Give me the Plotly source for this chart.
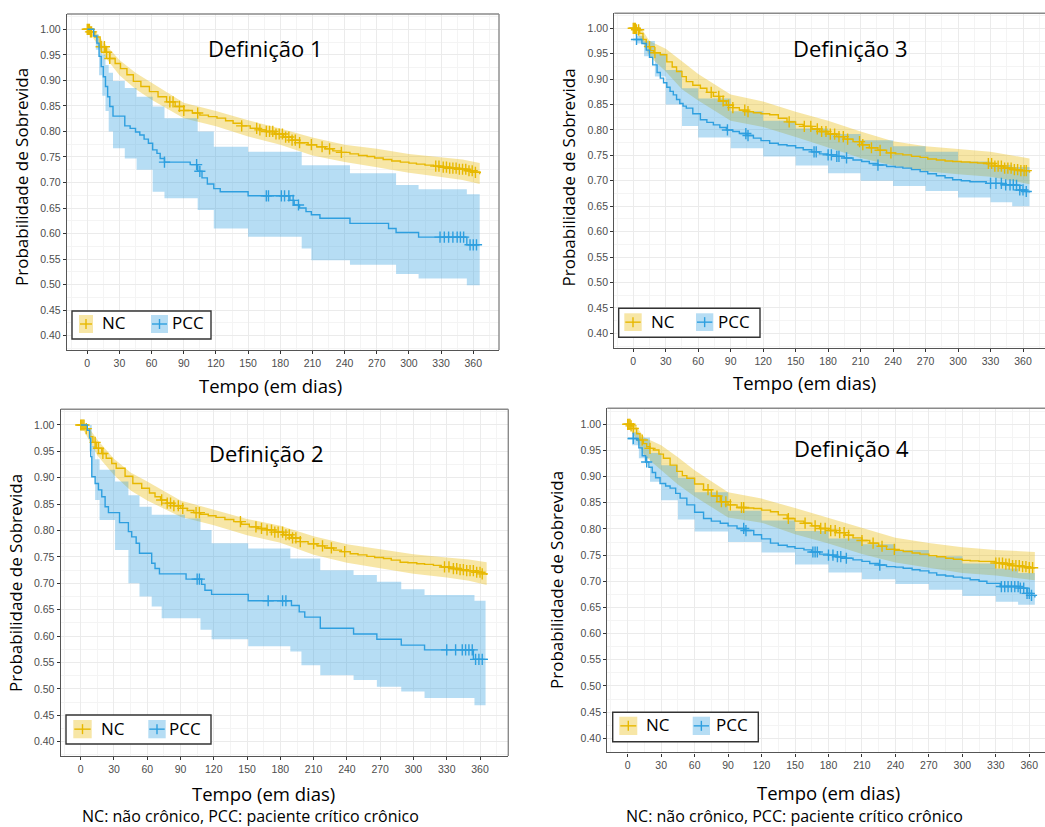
import numpy as np
import plotly.graph_objects as go

W, H = 1045, 827
NC_COLOR = "#E7B800"
PCC_COLOR = "#2E9FDF"
NC_FILL = "rgba(231,184,0,0.35)"
PCC_FILL = "rgba(46,159,223,0.35)"

x_ticks = [0, 30, 60, 90, 120, 150, 180, 210, 240, 270, 300, 330, 360]
y_ticks = [0.40, 0.45, 0.50, 0.55, 0.60, 0.65, 0.70, 0.75, 0.80, 0.85, 0.90, 0.95, 1.00]
y_tick_labels = ["0.40", "0.45", "0.50", "0.55", "0.60", "0.65", "0.70", "0.75", "0.80", "0.85", "0.90", "0.95", "1.00"]
panel_titles = ["Definição 1", "Definição 2", "Definição 3", "Definição 4"]
group_names = ["NC", "PCC"]
x_title = "Tempo (em dias)"
y_title = "Probabilidade de Sobrevida"
caption = "NC: não crônico, PCC: paciente crítico crônico"

# ---------------- Definição 1 ----------------
d1_nc_t = [0, 3, 7, 12, 17, 21, 26, 31, 37, 43, 50, 58, 66, 74, 82, 90, 98, 105, 113, 121, 129, 136, 144, 152, 160, 167, 175, 183, 191, 198, 206, 214, 222, 229, 237, 245, 253, 261, 268, 276, 284, 292, 300, 307, 315, 323, 331, 338, 346, 354, 360, 366]
d1_nc_s = [1.0, 0.995, 0.985, 0.966, 0.955, 0.943, 0.933, 0.923, 0.911, 0.898, 0.888, 0.878, 0.868, 0.858, 0.849, 0.841, 0.836, 0.832, 0.829, 0.826, 0.821, 0.816, 0.811, 0.806, 0.803, 0.800, 0.795, 0.789, 0.783, 0.778, 0.774, 0.770, 0.766, 0.762, 0.759, 0.756, 0.753, 0.751, 0.748, 0.745, 0.742, 0.740, 0.738, 0.736, 0.734, 0.732, 0.730, 0.728, 0.726, 0.723, 0.720, 0.716]
d1_nc_band_t = [0, 8, 15, 30, 45, 60, 90, 120, 150, 180, 210, 240, 270, 300, 330, 350, 366]
d1_nc_hi = [1.0, 0.995, 0.975, 0.940, 0.915, 0.895, 0.856, 0.840, 0.822, 0.806, 0.788, 0.774, 0.766, 0.756, 0.750, 0.745, 0.738]
d1_nc_lo = [1.0, 0.975, 0.950, 0.910, 0.883, 0.862, 0.826, 0.810, 0.790, 0.774, 0.753, 0.740, 0.730, 0.719, 0.711, 0.705, 0.697]
d1_nc_cens = [0, 1, 2, 3, 4, 13, 16, 18, 21, 77, 80, 86, 90, 103, 144, 158, 161, 167, 170, 173, 176, 179, 182, 185, 188, 191, 194, 198, 209, 219, 226, 237, 325, 328, 332, 335, 338, 341, 344, 347, 350, 353, 356, 359, 362]

d1_pcc_t = [0, 3, 6, 9, 11, 13, 15, 17, 19, 21, 24, 35, 40, 45, 49, 53, 57, 61, 65, 68, 72, 96, 103, 107, 112, 118, 124, 150, 189, 193, 198, 204, 209, 217, 245, 281, 288, 309, 354, 366]
d1_pcc_s = [1.0, 1.0, 0.987, 0.973, 0.947, 0.927, 0.907, 0.888, 0.868, 0.849, 0.830, 0.811, 0.806, 0.799, 0.793, 0.785, 0.777, 0.764, 0.757, 0.747, 0.740, 0.735, 0.722, 0.709, 0.697, 0.688, 0.682, 0.674, 0.665, 0.656, 0.650, 0.643, 0.637, 0.630, 0.620, 0.610, 0.602, 0.593, 0.578, 0.578]
d1_pcc_band_t = [0, 8, 11, 14, 17, 20, 24, 35, 46, 61, 72, 103, 118, 150, 200, 209, 245, 288, 309, 354, 366]
d1_pcc_hi = [1.0, 0.99, 0.97, 0.95, 0.93, 0.915, 0.899, 0.885, 0.868, 0.849, 0.826, 0.80, 0.77, 0.76, 0.734, 0.734, 0.718, 0.695, 0.687, 0.677, 0.677]
d1_pcc_lo = [1.0, 0.96, 0.91, 0.87, 0.84, 0.80, 0.767, 0.747, 0.725, 0.682, 0.669, 0.646, 0.61, 0.594, 0.571, 0.548, 0.539, 0.521, 0.512, 0.499, 0.499]
d1_pcc_cens = [72, 102, 105, 167, 169, 181, 184, 188, 192, 197, 329, 333, 337, 341, 345, 348, 351, 357, 360, 363]

# ---------------- Definição 2 ----------------
d2_nc_t = [0, 4, 8, 11, 14, 19, 23, 28, 32, 40, 47, 55, 62, 67, 72, 78, 84, 90, 96, 102, 108, 115, 122, 130, 138, 145, 152, 160, 168, 175, 183, 190, 198, 205, 213, 220, 228, 235, 243, 250, 258, 265, 273, 280, 288, 295, 303, 310, 318, 325, 333, 340, 348, 356, 362, 366]
d2_nc_s = [1.0, 0.993, 0.978, 0.967, 0.956, 0.946, 0.937, 0.927, 0.918, 0.903, 0.889, 0.880, 0.871, 0.864, 0.858, 0.852, 0.847, 0.842, 0.838, 0.834, 0.831, 0.828, 0.825, 0.821, 0.817, 0.812, 0.807, 0.804, 0.801, 0.797, 0.792, 0.786, 0.779, 0.775, 0.771, 0.767, 0.763, 0.760, 0.756, 0.754, 0.751, 0.749, 0.747, 0.744, 0.740, 0.739, 0.737, 0.736, 0.734, 0.731, 0.728, 0.726, 0.724, 0.721, 0.718, 0.716]
d2_nc_band_t = [0, 8, 15, 30, 45, 60, 90, 120, 150, 180, 210, 240, 270, 300, 330, 350, 366]
d2_nc_hi = [1.0, 0.993, 0.972, 0.936, 0.910, 0.893, 0.857, 0.840, 0.822, 0.809, 0.789, 0.774, 0.764, 0.755, 0.749, 0.745, 0.740]
d2_nc_lo = [1.0, 0.968, 0.942, 0.905, 0.876, 0.857, 0.826, 0.810, 0.791, 0.777, 0.754, 0.739, 0.729, 0.718, 0.711, 0.705, 0.697]
d2_nc_cens = [0, 1, 2, 3, 5, 13, 16, 20, 73, 78, 81, 84, 88, 92, 104, 107, 144, 158, 163, 168, 172, 175, 178, 182, 185, 188, 191, 194, 198, 210, 218, 226, 238, 328, 332, 336, 339, 342, 345, 348, 351, 354, 357, 360, 362]

d2_pcc_t = [0, 6, 8, 9, 10, 13, 16, 19, 22, 25, 35, 43, 46, 50, 53, 64, 67, 71, 95, 109, 112, 118, 151, 190, 197, 202, 216, 246, 267, 289, 310, 354, 367]
d2_pcc_s = [1.0, 0.99, 0.975, 0.94, 0.902, 0.889, 0.877, 0.864, 0.845, 0.834, 0.815, 0.798, 0.788, 0.776, 0.757, 0.738, 0.728, 0.718, 0.708, 0.698, 0.687, 0.679, 0.667, 0.658, 0.646, 0.636, 0.615, 0.604, 0.594, 0.583, 0.574, 0.556, 0.556]
d2_pcc_band_t = [0, 8, 10, 13, 17, 31, 43, 53, 64, 73, 94, 108, 118, 151, 189, 199, 216, 246, 267, 289, 310, 355, 365]
d2_pcc_hi = [1.0, 1.0, 0.96, 0.935, 0.915, 0.893, 0.867, 0.845, 0.83, 0.83, 0.823, 0.801, 0.776, 0.766, 0.747, 0.747, 0.725, 0.716, 0.703, 0.689, 0.678, 0.667, 0.667]
d2_pcc_lo = [1.0, 0.95, 0.902, 0.858, 0.82, 0.763, 0.70, 0.675, 0.656, 0.634, 0.634, 0.612, 0.594, 0.581, 0.571, 0.545, 0.526, 0.517, 0.504, 0.495, 0.483, 0.469, 0.469]
d2_pcc_cens = [105, 107, 169, 182, 185, 330, 338, 344, 347, 350, 353, 356, 359, 362]

# ---------------- Definição 3 ----------------
d3_nc_t = [0, 3, 6, 9, 12, 16, 19, 25, 31, 36, 40, 45, 49, 55, 62, 68, 74, 80, 86, 92, 98, 105, 111, 118, 126, 134, 142, 150, 157, 165, 172, 180, 188, 195, 203, 211, 218, 226, 234, 242, 249, 257, 265, 272, 280, 288, 295, 303, 311, 318, 326, 334, 342, 350, 357, 366]
d3_nc_s = [1.0, 0.997, 0.990, 0.978, 0.964, 0.956, 0.952, 0.948, 0.934, 0.924, 0.915, 0.905, 0.895, 0.888, 0.882, 0.874, 0.866, 0.857, 0.849, 0.844, 0.839, 0.836, 0.834, 0.832, 0.830, 0.823, 0.816, 0.811, 0.807, 0.802, 0.797, 0.792, 0.787, 0.782, 0.777, 0.771, 0.765, 0.760, 0.755, 0.753, 0.751, 0.748, 0.746, 0.743, 0.741, 0.739, 0.738, 0.737, 0.736, 0.735, 0.734, 0.729, 0.725, 0.722, 0.720, 0.716]
d3_nc_band_t = [0, 8, 15, 30, 45, 60, 90, 120, 150, 180, 210, 240, 270, 300, 330, 350, 366]
d3_nc_hi = [1.0, 0.998, 0.975, 0.960, 0.935, 0.910, 0.870, 0.856, 0.836, 0.818, 0.797, 0.778, 0.768, 0.762, 0.757, 0.750, 0.744]
d3_nc_lo = [1.0, 0.975, 0.945, 0.915, 0.880, 0.858, 0.818, 0.806, 0.786, 0.766, 0.745, 0.730, 0.719, 0.713, 0.708, 0.700, 0.693]
d3_nc_cens = [0, 1, 2, 3, 5, 15, 20, 72, 79, 83, 88, 92, 103, 106, 144, 158, 164, 170, 174, 178, 182, 186, 190, 194, 198, 209, 212, 220, 228, 238, 328, 331, 334, 337, 340, 343, 346, 349, 352, 355, 358, 361, 363]

d3_pcc_t = [0, 3, 8, 12, 15, 18, 22, 25, 28, 31, 34, 37, 40, 43, 46, 49, 55, 62, 68, 74, 80, 86, 92, 98, 105, 111, 118, 126, 134, 142, 150, 157, 165, 172, 180, 188, 195, 203, 211, 218, 226, 234, 242, 249, 257, 265, 272, 280, 288, 295, 303, 311, 326, 341, 354, 357, 362, 366]
d3_pcc_s = [0.978, 0.978, 0.970, 0.957, 0.943, 0.928, 0.913, 0.902, 0.893, 0.884, 0.876, 0.869, 0.860, 0.852, 0.847, 0.843, 0.832, 0.820, 0.815, 0.810, 0.805, 0.800, 0.797, 0.793, 0.789, 0.784, 0.779, 0.774, 0.771, 0.769, 0.765, 0.761, 0.757, 0.753, 0.751, 0.748, 0.745, 0.741, 0.738, 0.734, 0.731, 0.728, 0.727, 0.725, 0.722, 0.718, 0.714, 0.710, 0.706, 0.702, 0.700, 0.698, 0.695, 0.692, 0.691, 0.682, 0.679, 0.677]
d3_pcc_band_t = [0, 3, 10, 20, 30, 45, 60, 90, 120, 150, 180, 210, 240, 270, 300, 330, 350, 366]
d3_pcc_hi = [0.978, 0.985, 0.975, 0.950, 0.918, 0.882, 0.862, 0.837, 0.818, 0.803, 0.792, 0.780, 0.768, 0.757, 0.738, 0.731, 0.727, 0.718]
d3_pcc_lo = [0.978, 0.970, 0.945, 0.905, 0.850, 0.808, 0.785, 0.764, 0.748, 0.730, 0.715, 0.700, 0.690, 0.680, 0.667, 0.658, 0.650, 0.638]
d3_pcc_cens = [3, 87, 104, 106, 167, 169, 180, 183, 188, 190, 197, 226, 330, 335, 340, 344, 348, 351, 354, 357, 360, 363]

# ---------------- Definição 4 ----------------
d4_nc_t = [0, 3, 5, 8, 11, 14, 17, 20, 23, 28, 32, 38, 44, 49, 53, 60, 68, 75, 83, 90, 98, 105, 113, 120, 128, 135, 143, 150, 158, 165, 172, 180, 187, 195, 202, 210, 217, 225, 232, 240, 247, 255, 262, 270, 277, 285, 292, 300, 307, 315, 322, 330, 337, 345, 352, 358, 365]
d4_nc_s = [1.0, 0.997, 0.992, 0.982, 0.970, 0.963, 0.957, 0.954, 0.951, 0.943, 0.935, 0.922, 0.910, 0.902, 0.897, 0.886, 0.875, 0.863, 0.852, 0.846, 0.841, 0.840, 0.839, 0.836, 0.833, 0.827, 0.820, 0.815, 0.811, 0.806, 0.801, 0.797, 0.793, 0.788, 0.783, 0.778, 0.773, 0.767, 0.761, 0.759, 0.757, 0.754, 0.752, 0.749, 0.747, 0.744, 0.742, 0.740, 0.739, 0.738, 0.738, 0.735, 0.733, 0.730, 0.728, 0.726, 0.725]
d4_nc_band_t = [0, 8, 15, 30, 45, 60, 90, 120, 150, 180, 210, 240, 270, 300, 330, 350, 365]
d4_nc_hi = [1.0, 0.995, 0.975, 0.960, 0.937, 0.912, 0.870, 0.858, 0.840, 0.821, 0.803, 0.783, 0.773, 0.765, 0.760, 0.758, 0.756]
d4_nc_lo = [1.0, 0.970, 0.940, 0.912, 0.885, 0.862, 0.822, 0.812, 0.790, 0.772, 0.752, 0.736, 0.726, 0.716, 0.711, 0.706, 0.702]
d4_nc_cens = [0, 1, 2, 3, 5, 13, 20, 72, 80, 84, 88, 92, 102, 104, 144, 159, 168, 173, 177, 182, 186, 190, 194, 198, 210, 220, 228, 239, 330, 333, 336, 339, 342, 345, 348, 351, 354, 357, 360, 363]

d4_pcc_t = [0, 4, 8, 10, 13, 16, 19, 22, 25, 29, 34, 38, 43, 47, 53, 60, 68, 75, 83, 90, 98, 105, 113, 120, 128, 135, 143, 150, 158, 165, 172, 180, 187, 195, 202, 210, 217, 225, 232, 240, 247, 255, 262, 270, 277, 285, 292, 300, 307, 315, 322, 334, 352, 358, 362, 365]
d4_pcc_s = [0.973, 0.973, 0.970, 0.955, 0.940, 0.928, 0.918, 0.908, 0.898, 0.887, 0.882, 0.878, 0.868, 0.859, 0.846, 0.832, 0.820, 0.815, 0.811, 0.806, 0.801, 0.797, 0.789, 0.781, 0.773, 0.769, 0.766, 0.763, 0.760, 0.756, 0.752, 0.750, 0.747, 0.744, 0.741, 0.738, 0.734, 0.731, 0.728, 0.727, 0.725, 0.722, 0.720, 0.716, 0.712, 0.710, 0.708, 0.706, 0.703, 0.700, 0.696, 0.690, 0.687, 0.677, 0.673, 0.669]
d4_pcc_band_t = [0, 4, 10, 20, 30, 45, 60, 90, 120, 150, 180, 210, 240, 270, 300, 330, 350, 365]
d4_pcc_hi = [0.973, 0.985, 0.975, 0.945, 0.922, 0.898, 0.870, 0.835, 0.816, 0.796, 0.782, 0.771, 0.760, 0.748, 0.734, 0.724, 0.716, 0.705]
d4_pcc_lo = [0.973, 0.960, 0.935, 0.890, 0.855, 0.818, 0.795, 0.775, 0.755, 0.732, 0.717, 0.704, 0.695, 0.684, 0.672, 0.661, 0.655, 0.638]
d4_pcc_cens = [5, 17, 104, 106, 166, 168, 170, 180, 184, 188, 191, 196, 226, 335, 338, 341, 344, 347, 350, 352, 355, 358, 360, 362]

curves = [
    [(d1_nc_t, d1_nc_s, d1_nc_band_t, d1_nc_lo, d1_nc_hi, d1_nc_cens),
     (d1_pcc_t, d1_pcc_s, d1_pcc_band_t, d1_pcc_lo, d1_pcc_hi, d1_pcc_cens)],
    [(d2_nc_t, d2_nc_s, d2_nc_band_t, d2_nc_lo, d2_nc_hi, d2_nc_cens),
     (d2_pcc_t, d2_pcc_s, d2_pcc_band_t, d2_pcc_lo, d2_pcc_hi, d2_pcc_cens)],
    [(d3_nc_t, d3_nc_s, d3_nc_band_t, d3_nc_lo, d3_nc_hi, d3_nc_cens),
     (d3_pcc_t, d3_pcc_s, d3_pcc_band_t, d3_pcc_lo, d3_pcc_hi, d3_pcc_cens)],
    [(d4_nc_t, d4_nc_s, d4_nc_band_t, d4_nc_lo, d4_nc_hi, d4_nc_cens),
     (d4_pcc_t, d4_pcc_s, d4_pcc_band_t, d4_pcc_lo, d4_pcc_hi, d4_pcc_cens)],
]

# ---------------- layout geometry (pixels) ----------------
panels = [
    dict(box=(67, 499, 14, 350), xr=[-18.9, 384.0], yr=[0.372, 1.030], right=True,
         title=(265, 48), ytitle=(22, 177), xtitle=(270, 385), caption=None,
         legend=dict(box=(72, 211, 311, 339), nc=(79, 93, 315, 333), nct=100, pcc=(151, 168, 315, 333), pcct=170)),
    dict(box=(60.7, 508.3, 409.3, 756), xr=[-18.03, 385.5], yr=[0.3729, 1.0297], right=True,
         title=(266, 453), ytitle=(15, 583), xtitle=(263, 793), caption=(250, 816),
         legend=dict(box=(66, 211, 715, 744), nc=(73.3, 91.7, 720, 738.3), nct=98.5, pcc=(148.3, 165.7, 720, 738.3), pcct=167)),
    dict(box=(614.3, 1045, 13.3, 347.7), xr=[-17.5, 380.3], yr=[0.3717, 1.0295], right=False,
         title=(850, 48), ytitle=(568, 177.5), xtitle=(804, 382), caption=None,
         legend=dict(box=(618.7, 760, 308.3, 337.3), nc=(624.3, 641.7, 313.3, 331), nct=649, pcc=(696, 713.3, 313.3, 331), pcct=716)),
    dict(box=(607.3, 1045, 408.3, 752.3), xr=[-18.3, 374.1], yr=[0.3732, 1.0306], right=False,
         title=(851, 448), ytitle=(556, 580), xtitle=(828, 792), caption=(794, 815.5),
         legend=dict(box=(612.7, 758.3, 712.3, 741.7), nc=(619.3, 637.3, 716.7, 735), nct=644, pcc=(692.7, 710, 716.7, 735), pcct=714)),
]


def PX(x):
    return x / W


def PY(y):
    return 1 - y / H


def step_at(ts, ss, t):
    i = int(np.searchsorted(np.asarray(ts), t, side="right")) - 1
    return ss[max(i, 0)]


fig = go.Figure()
colors = [NC_COLOR, PCC_COLOR]
fills = [NC_FILL, PCC_FILL]

for p, pan in enumerate(panels):
    sfx = "" if p == 0 else str(p + 1)
    xa, ya = "x" + sfx, "y" + sfx
    for g in range(2):
        t, s, bt, lo, hi, cens = curves[p][g]
        shape = "linear" if g == 0 else "hv"
        fig.add_trace(go.Scatter(x=bt, y=lo, mode="lines", line=dict(width=0, shape=shape),
                                 hoverinfo="skip", showlegend=False, xaxis=xa, yaxis=ya))
        fig.add_trace(go.Scatter(x=bt, y=hi, mode="lines", line=dict(width=0, shape=shape),
                                 fill="tonexty", fillcolor=fills[g], hoverinfo="skip",
                                 showlegend=False, xaxis=xa, yaxis=ya))
    for g in range(2):
        t, s, bt, lo, hi, cens = curves[p][g]
        fig.add_trace(go.Scatter(x=t, y=s, mode="lines", name=group_names[g],
                                 line=dict(color=colors[g], width=1.4, shape="hv"),
                                 showlegend=False, xaxis=xa, yaxis=ya))
        cy = [step_at(t, s, c) for c in cens]
        fig.add_trace(go.Scatter(x=cens, y=cy, mode="markers", name=group_names[g] + " censura",
                                 marker=dict(symbol="cross-thin", size=8,
                                             line=dict(width=1.4, color=colors[g])),
                                 showlegend=False, xaxis=xa, yaxis=ya))

layout = dict(
    width=W, height=H, autosize=False,
    margin=dict(l=0, r=0, t=0, b=0),
    paper_bgcolor="white", plot_bgcolor="white",
    showlegend=False,
)
shapes = []
annotations = []
for p, pan in enumerate(panels):
    sfx = "" if p == 0 else str(p + 1)
    x0, x1, y0, y1 = pan["box"]
    layout["xaxis" + sfx] = dict(
        domain=[PX(x0), PX(x1)], range=pan["xr"], anchor="y" + sfx,
        tickmode="array", tickvals=x_ticks, ticktext=[str(v) for v in x_ticks],
        showgrid=True, gridcolor="#EBEBEB", gridwidth=1,
        minor=dict(tickmode="linear", tick0=0, dtick=15, showgrid=True, gridcolor="#F4F4F4", gridwidth=1),
        zeroline=False, ticks="outside", ticklen=3, tickwidth=1, tickcolor="#333333",
        tickfont=dict(family="Liberation Sans, Arial", size=10.5, color="#4D4D4D"),
        showline=True, linecolor="#555555", linewidth=1.4, mirror=False,
    )
    layout["yaxis" + sfx] = dict(
        domain=[PY(y1), PY(y0)], range=pan["yr"], anchor="x" + sfx,
        tickmode="array", tickvals=y_ticks, ticktext=y_tick_labels,
        showgrid=True, gridcolor="#EBEBEB", gridwidth=1,
        minor=dict(tickmode="linear", tick0=0, dtick=0.025, showgrid=True, gridcolor="#F4F4F4", gridwidth=1),
        zeroline=False, ticks="outside", ticklen=3, tickwidth=1, tickcolor="#333333",
        tickfont=dict(family="Liberation Sans, Arial", size=10.5, color="#4D4D4D"),
        showline=True, linecolor="#555555", linewidth=1.4, mirror=False,
    )
    shapes.append(dict(type="line", xref="paper", yref="paper", x0=PX(x0), x1=PX(x1), y0=PY(y0), y1=PY(y0),
                       line=dict(color="#8A8A8A", width=1.4), layer="above"))
    if pan["right"]:
        shapes.append(dict(type="line", xref="paper", yref="paper", x0=PX(x1), x1=PX(x1), y0=PY(y0), y1=PY(y1),
                           line=dict(color="#8A8A8A", width=1.4), layer="above"))
    tx, ty = pan["title"]
    annotations.append(dict(text=panel_titles[p], x=PX(tx), y=PY(ty), xref="paper", yref="paper",
                            showarrow=False, xanchor="center", yanchor="middle",
                            font=dict(family="Open Sans", size=22, color="black")))
    yx, yy = pan["ytitle"]
    annotations.append(dict(text=y_title, x=PX(yx), y=PY(yy), xref="paper", yref="paper", textangle=-90,
                            showarrow=False, xanchor="center", yanchor="middle",
                            font=dict(family="Open Sans", size=17, color="black")))
    xx, xy = pan["xtitle"]
    annotations.append(dict(text=x_title, x=PX(xx), y=PY(xy), xref="paper", yref="paper",
                            showarrow=False, xanchor="center", yanchor="middle",
                            font=dict(family="Open Sans", size=18.5, color="black")))
    if pan["caption"]:
        cx, cy = pan["caption"]
        annotations.append(dict(text=caption, x=PX(cx), y=PY(cy), xref="paper", yref="paper",
                                showarrow=False, xanchor="center", yanchor="middle",
                                font=dict(family="Open Sans", size=16, color="black")))
    lg = pan["legend"]
    bx0, bx1, by0, by1 = lg["box"]
    shapes.append(dict(type="rect", xref="paper", yref="paper", x0=PX(bx0), x1=PX(bx1), y0=PY(by1), y1=PY(by0),
                       line=dict(color="#333333", width=1.4), fillcolor="white", layer="above"))
    for g, key, tkey in [(0, "nc", "nct"), (1, "pcc", "pcct")]:
        sx0, sx1, sy0, sy1 = lg[key]
        shapes.append(dict(type="rect", xref="paper", yref="paper", x0=PX(sx0), x1=PX(sx1), y0=PY(sy1), y1=PY(sy0),
                           line=dict(width=0), fillcolor=fills[g], layer="above"))
        cxp = (sx0 + sx1) / 2
        cyp = (sy0 + sy1) / 2
        shapes.append(dict(type="line", xref="paper", yref="paper", x0=PX(sx0 + 1), x1=PX(sx1 - 1), y0=PY(cyp), y1=PY(cyp),
                           line=dict(color=colors[g], width=1.4), layer="above"))
        shapes.append(dict(type="line", xref="paper", yref="paper", x0=PX(cxp), x1=PX(cxp), y0=PY(cyp - 5), y1=PY(cyp + 5),
                           line=dict(color=colors[g], width=1.4), layer="above"))
        annotations.append(dict(text=group_names[g], x=PX(lg[tkey]), y=PY(cyp - 1), xref="paper", yref="paper",
                                showarrow=False, xanchor="left", yanchor="middle",
                                font=dict(family="Open Sans", size=17, color="black")))

layout["shapes"] = shapes
layout["annotations"] = annotations
fig.update_layout(**layout)
fig.write_html("out.html", config={"displayModeBar": False},
               post_script="document.body.style.margin='0';document.body.style.padding='0';document.body.style.overflow='hidden';")
